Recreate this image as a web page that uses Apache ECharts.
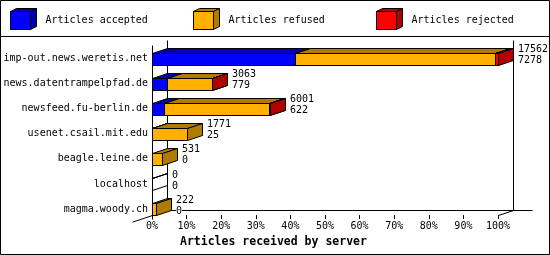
<!DOCTYPE html>
<html>
<head>
<meta charset="utf-8">
<script src="https://cdn.jsdelivr.net/npm/echarts@6/dist/echarts.min.js"></script>
<style>
    html, body { margin: 0; padding: 0; background: #fff; }
    #chart-container { width: 550px; height: 255px; }
</style>
</head>
<body>
<div id="chart-container"></div>
<script>
'use strict';

// per server article counts
const hosts = [
    'imp-out.news.weretis.net',
    'news.datentrampelpfad.de',
    'newsfeed.fu-berlin.de',
    'usenet.csail.mit.edu',
    'beagle.leine.de',
    'localhost',
    'magma.woody.ch'
];
const offered = [17562, 3063, 6001, 1771, 531, 0, 222];
const accepted = [7278, 779, 622, 25, 0, 0, 0];
const refused = [10134, 2264, 5319, 1746, 531, 0, 222];
const rejected = [150, 20, 60, 0, 0, 0, 0];

const seriesNames = ['Articles accepted', 'Articles refused', 'Articles rejected'];
const frontColors = ['#0000ff', '#ffb000', '#ff0000'];
const sideColors = ['#0000b0', '#b07b00', '#b00000'];

const FONT_FAMILY = '"DejaVu Sans Mono", monospace';
const FONT = '10px ' + FONT_FAMILY;
const BAR_H = 12;
const DX = 15;
const DY = 5;
const ROW0 = 58.5;
const ROW_STEP = 25.1;
const LEGEND_LEFT = [10, 193, 376];

const layers = [accepted, refused, rejected];
const scale = 100 / Math.max(...offered);

// stacked ranges in percent of the busiest server
const ranges = layers.map(() => []);
hosts.forEach((h, i) => {
    let sum = 0;
    layers.forEach((vals, k) => {
        const start = sum * scale;
        sum += vals[i];
        ranges[k].push([i, start, sum * scale, vals[i]]);
    });
});

function segmentRenderer(k) {
    return function (params, api) {
        const i = api.value(0);
        const count = api.value(3);
        const isLast = k === layers.length - 1;
        const empty = count === 0;
        if (empty && !(isLast && api.value(2) === 0)) {
            return null;
        }
        const a = api.coord([api.value(1), i]);
        const b = api.coord([api.value(2), i]);
        const x0 = Math.round(a[0]) + 0.5;
        const x1 = Math.round(b[0]) + 0.5;
        const top = Math.round(a[1] - BAR_H / 2) + 0.5;
        const bot = top + BAR_H;
        const style = (c) => ({ fill: empty ? 'none' : c, stroke: '#000', lineWidth: 1 });
        return {
            type: 'group',
            children: [
                { type: 'polygon', shape: { points: [[x0, top], [x1, top], [x1, bot], [x0, bot]] }, style: style(frontColors[k]) },
                { type: 'polygon', shape: { points: [[x0, top], [x0 + DX, top - DY], [x1 + DX, top - DY], [x1, top]] }, style: style(sideColors[k]) },
                { type: 'polygon', shape: { points: [[x1, top], [x1 + DX, top - DY], [x1 + DX, bot - DY], [x1, bot]] }, style: style(sideColors[k]) }
            ]
        };
    };
}

function renderFrame(params, api) {
    const n = hosts.length;
    const first = api.coord([0, 0]);
    const last = api.coord([0, n - 1]);
    const right = api.coord([100, n - 1]);
    const fx0 = Math.round(last[0]) + 0.5;
    const fx1 = Math.round(right[0]) + 0.5;
    const fyb = Math.round(last[1] + BAR_H / 2) + 0.5;
    const fyt = Math.round(first[1] - BAR_H / 2 - 8) + 0.5;
    const line = (x1, y1, x2, y2) => ({
        type: 'line',
        shape: { x1: x1, y1: y1, x2: x2, y2: y2 },
        style: { stroke: '#000', lineWidth: 1 }
    });
    return {
        type: 'group',
        children: [
            line(fx0 + DX, fyt - DY, fx0 + DX, fyb - DY),
            line(fx1 + DX, fyt - DY, fx1 + DX, fyb - DY),
            line(fx0 + DX, fyb - DY, fx1 + DX + 19, fyb - DY),
            line(fx0 - 20, fyb + 20 * DY / DX, fx0 + DX, fyb - DY),
            line(fx1, fyb, fx1 + DX, fyb - DY),
            line(fx0, fyt, fx0, fyb + 4)
        ]
    };
}

function renderLabels(params, api) {
    const i = api.value(0);
    const p = api.coord([api.value(1), i]);
    const x = Math.round(p[0]) + DX + 5;
    const text = (str, y) => ({
        type: 'text',
        style: {
            text: String(str), x: x, y: y, font: FONT, fill: '#000',
            verticalAlign: 'middle', backgroundColor: '#fff'
        }
    });
    return {
        type: 'group',
        children: [text(api.value(2), p[1] - 9), text(api.value(3), p[1] + 2)]
    };
}

const myChart = echarts.init(document.getElementById('chart-container'), null, { renderer: 'canvas' });

const gridTop = ROW0 - ROW_STEP / 2;
const gridBottom = gridTop + ROW_STEP * hosts.length;
const axisY = ROW0 + ROW_STEP * (hosts.length - 1) + BAR_H / 2;

const legendFaces = [];
LEGEND_LEFT.forEach((x, k) => {
    const l = x + 0.5, r = x + 20.5, t = 11.5, b = 29.5;
    legendFaces.push({
        type: 'polygon',
        shape: { points: [[l, t], [l + 6, t - 3], [r + 6, t - 3], [r, t]] },
        style: { fill: sideColors[k], stroke: '#000', lineWidth: 1 }
    });
    legendFaces.push({
        type: 'polygon',
        shape: { points: [[r, t], [r + 6, t - 3], [r + 6, b - 3], [r, b]] },
        style: { fill: sideColors[k], stroke: '#000', lineWidth: 1 }
    });
});

const option = {
    animation: false,
    backgroundColor: '#fff',
    title: {
        text: 'Articles received by server',
        left: 180,
        top: 235,
        padding: 0,
        textStyle: { fontFamily: FONT_FAMILY, fontSize: 11.5, fontWeight: 'bold', color: '#000', lineHeight: 14 }
    },
    legend: seriesNames.map((name, k) => ({
        data: [name],
        left: LEGEND_LEFT[k],
        top: 11,
        padding: 0,
        icon: 'rect',
        itemWidth: 20,
        itemHeight: 18,
        selectedMode: false,
        itemStyle: { borderColor: '#000', borderWidth: 1 },
        textStyle: { fontFamily: FONT_FAMILY, fontSize: 10, color: '#000', padding: [0, 0, 0, 10] }
    })),
    grid: {
        left: 152,
        right: 52,
        top: gridTop,
        bottom: 255 - gridBottom
    },
    xAxis: {
        type: 'value',
        min: 0,
        max: 100,
        interval: 10,
        offset: axisY - gridBottom,
        axisLine: { show: false },
        axisTick: { show: true, length: 4, lineStyle: { color: '#000' } },
        splitLine: { show: false },
        axisLabel: {
            formatter: '{value}%',
            margin: 6,
            fontFamily: FONT_FAMILY,
            fontSize: 10,
            color: '#000'
        }
    },
    yAxis: {
        type: 'category',
        data: hosts,
        inverse: true,
        axisLine: { show: false },
        axisTick: { show: false },
        axisLabel: { margin: 4, fontFamily: FONT_FAMILY, fontSize: 10, color: '#000' }
    },
    graphic: [
        { type: 'rect', shape: { x: 0.5, y: 0.5, width: 549, height: 254 }, style: { fill: 'none', stroke: '#000', lineWidth: 1 } },
        { type: 'line', shape: { x1: 0, y1: 36.5, x2: 550, y2: 36.5 }, style: { stroke: '#000', lineWidth: 1 } }
    ].concat(legendFaces),
    series: [
        {
            type: 'custom',
            name: 'frame',
            renderItem: renderFrame,
            data: [[0, 0]],
            encode: { x: 1, y: 0 },
            clip: false,
            silent: true
        }
    ].concat(seriesNames.map((name, k) => ({
        type: 'custom',
        name: name,
        renderItem: segmentRenderer(k),
        data: ranges[k],
        encode: { x: [1, 2], y: 0 },
        itemStyle: { color: frontColors[k] },
        clip: false
    }))).concat([
        {
            type: 'custom',
            name: 'labels',
            renderItem: renderLabels,
            data: hosts.map((h, i) => [i, offered[i] * scale, offered[i], accepted[i]]),
            encode: { x: 1, y: 0 },
            clip: false,
            silent: true
        }
    ])
};
myChart.setOption(option);

window.addEventListener('resize', myChart.resize);
</script>
</body>
</html>
